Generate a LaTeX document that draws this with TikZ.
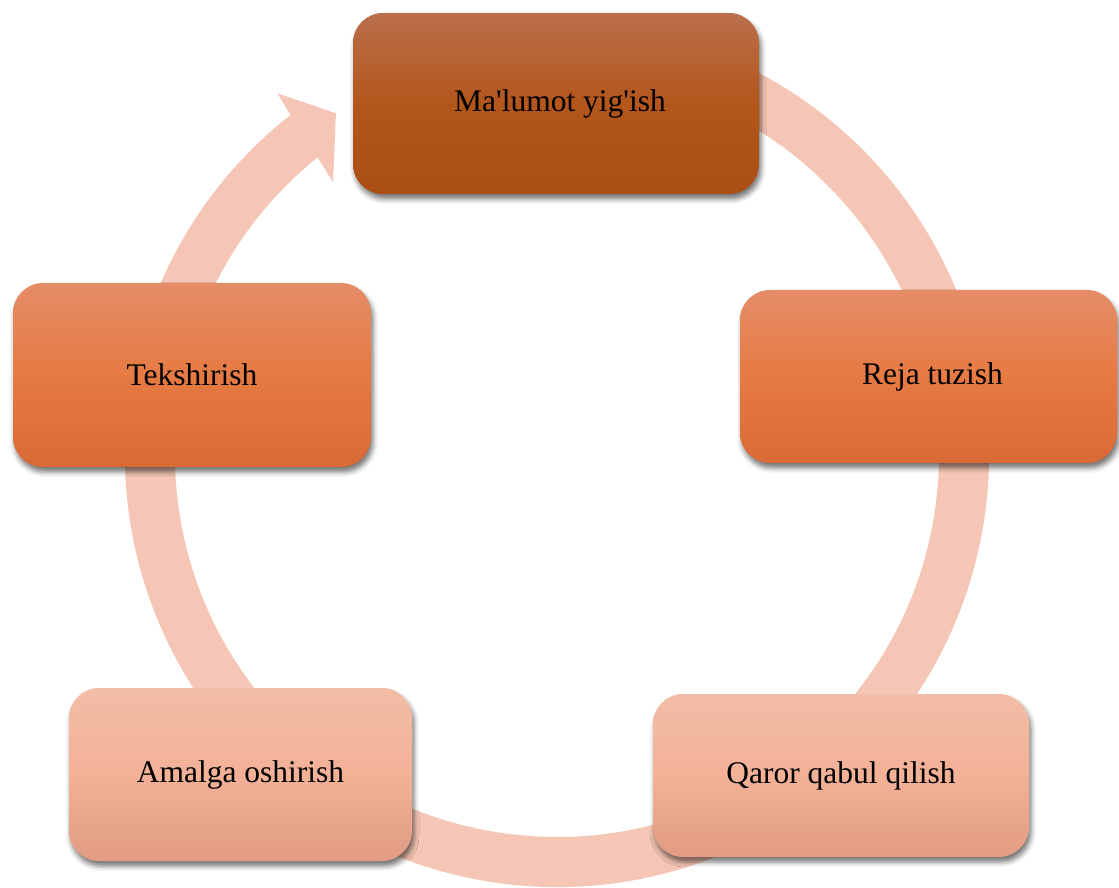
\documentclass[tikz,border=0pt]{standalone}
\usepackage{fontspec}
\setmainfont{Liberation Serif}[Ligatures=TeXOff]
\usetikzlibrary{shadows.blur,calc}
\definecolor{ringc}{HTML}{F5C6B5}
\definecolor{darkT}{HTML}{BA6F4B}
\definecolor{darkM}{HTML}{B3561C}
\definecolor{darkB}{HTML}{AA4E13}
\definecolor{midT}{HTML}{E58D68}
\definecolor{midM}{HTML}{E67A43}
\definecolor{midB}{HTML}{DA6A35}
\definecolor{liteT}{HTML}{F2BDA6}
\definecolor{liteM}{HTML}{F3B197}
\definecolor{liteB}{HTML}{E19C83}
\tikzset{
  box/.style={rounded corners=30pt, inner sep=0pt,
    font=\fontsize{31.5}{36}\selectfont, text=black,
    blur shadow={shadow xshift=2pt, shadow yshift=-5pt, shadow blur radius=5pt, shadow opacity=55}},
  darkbox/.style={box, top color=darkT, bottom color=darkB, middle color=darkM},
  midbox/.style={box, top color=midT, bottom color=midB, middle color=midM},
  litebox/.style={box, top color=liteT, bottom color=liteB, middle color=liteM},
}
\begin{document}
\begin{tikzpicture}[x=1pt,y=1pt]
\useasboundingbox (0,0) rectangle (1119,887);
\coordinate (C) at (557,432);
% ring with arrowhead
\fill[ringc] ($(C)+(75:432pt)$) arc[start angle=75, end angle=-231.9, radius=432pt]
  -- ($(C)+(127.7:457pt)$) -- ($(C)+(122.9:407pt)$) -- ($(C)+(129.4:353pt)$)
  -- ($(C)+(128.8:382pt)$) arc[start angle=-231.2, end angle=75, radius=382pt] -- cycle;
% boxes
\node[darkbox, minimum width=406pt, minimum height=181pt] (m) at (556,783.5) {\hspace*{8pt}Ma'lumot yig'ish};
\node[midbox, minimum width=377pt, minimum height=173pt] (r) at (928.5,510.5) {\hspace*{8pt}Reja tuzish};
\node[litebox, minimum width=376pt, minimum height=163pt] (q) at (841,111.5) {Qaror qabul qilish};
\node[litebox, minimum width=343pt, minimum height=173pt] (a) at (240.5,112.5) {Amalga oshirish};
\node[midbox, minimum width=358pt, minimum height=184pt] (t) at (192,512) {Tekshirish};
\end{tikzpicture}
\end{document}
